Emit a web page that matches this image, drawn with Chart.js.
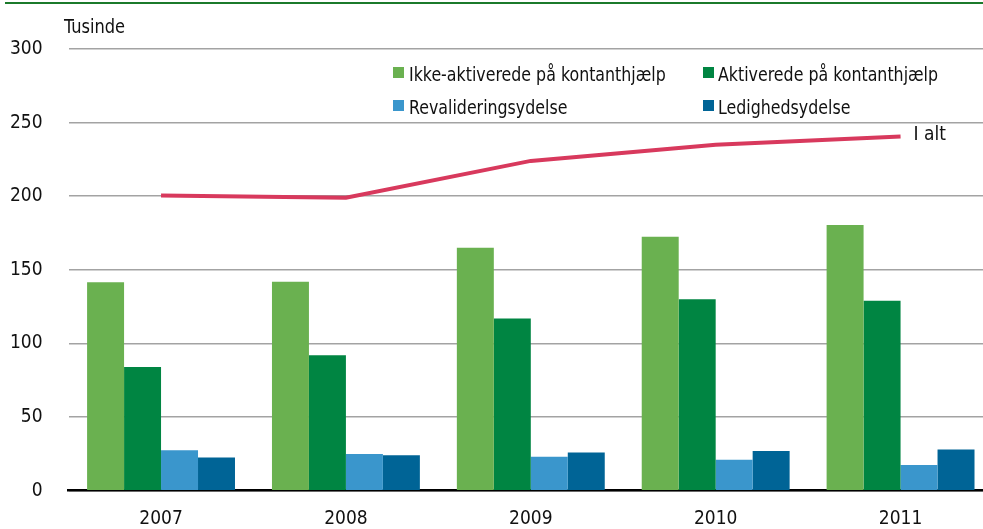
<!DOCTYPE html>
<html>
<head>
<meta charset="utf-8">
<script src="https://cdn.jsdelivr.net/npm/chart.js@4.4.1/dist/chart.umd.min.js"></script>
<style>
    body { margin: 0; background: #fff; overflow: hidden; width: 983px; height: 529px; position: relative; }
    .txt { position: absolute; font-family: "DejaVu Sans Condensed", "Liberation Sans", sans-serif; font-size: 20px; color: #111; white-space: nowrap; line-height: 1; transform: scaleX(0.88); transform-origin: 0 0; }
    .sw { position: absolute; width: 11px; height: 11px; }
    #topline { position: absolute; left: 5px; top: 2px; width: 978px; height: 2px; background: #1b7a2b; }
    #wrap { position: absolute; left: 0; top: 0; }
</style>
</head>
<body>
<div id="topline"></div>
<div id="wrap"><canvas id="chart" width="993" height="529"></canvas></div>
<div class="txt" style="left:64px; top:17px; font-size:19px; transform: scaleX(0.95);">Tusinde</div>

<div class="sw" style="left:393px; top:67px; background:#6ab150;"></div>
<div class="txt" style="left:409px; top:64px;">Ikke-aktiverede på kontanthjælp</div>
<div class="sw" style="left:703px; top:67px; background:#008542;"></div>
<div class="txt" style="left:718px; top:64px;">Aktiverede på kontanthjælp</div>
<div class="sw" style="left:393px; top:100px; background:#3a96cc;"></div>
<div class="txt" style="left:409px; top:97px;">Revalideringsydelse</div>
<div class="sw" style="left:703px; top:100px; background:#006496;"></div>
<div class="txt" style="left:718px; top:97px;">Ledighedsydelse</div>

<script>
const years = ['2007', '2008', '2009', '2010', '2011'];
const ikkeAktiverede = [141.5, 142, 165, 172.5, 180.5];
const aktiverede = [84, 92, 117, 130, 129];
const revalidering = [27.5, 25, 23, 21, 17.5];
const ledighed = [22.5, 24, 26, 27, 28];
const iAlt = [200.5, 199, 224, 235, 240.5];
const yTicks = [0, 50, 100, 150, 200, 250, 300];

const fontFamily = '"DejaVu Sans Condensed", "Liberation Sans", sans-serif';

// label at the end of the total line
const endLabel = {
    id: 'endLabel',
    afterDatasetsDraw(chart) {
        const meta = chart.getDatasetMeta(4);
        const last = meta.data[meta.data.length - 1];
        const ctx = chart.ctx;
        ctx.save();
        ctx.font = '19px ' + fontFamily;
        ctx.fillStyle = '#111';
        ctx.textAlign = 'left';
        ctx.textBaseline = 'middle';
        ctx.fillText('I alt', last.x + 13, last.y - 2);
        ctx.restore();
    }
};

const ctx = document.getElementById('chart');
const chart = new Chart(ctx, {
    type: 'bar',
    data: {
        labels: years,
        datasets: [
            { label: 'Ikke-aktiverede på kontanthjælp', data: ikkeAktiverede, backgroundColor: '#6ab150', order: 2 },
            { label: 'Aktiverede på kontanthjælp', data: aktiverede, backgroundColor: '#008542', order: 2 },
            { label: 'Revalideringsydelse', data: revalidering, backgroundColor: '#3a96cc', order: 2 },
            { label: 'Ledighedsydelse', data: ledighed, backgroundColor: '#006496', order: 2 },
            {
                type: 'line',
                label: 'I alt',
                data: iAlt,
                borderColor: '#d8395d',
                borderWidth: 4,
                pointRadius: 0,
                tension: 0,
                fill: false,
                order: 1,
            },
        ],
    },
    options: {
        responsive: false,
        animation: false,
        devicePixelRatio: 1,
        barPercentage: 1,
        categoryPercentage: 0.8,
        layout: { padding: { top: 49, left: 0, right: 0, bottom: 0 } },
        plugins: {
            legend: { display: false },
            tooltip: { enabled: false },
            title: { display: false },
        },
        scales: {
            x: {
                grid: { display: false, drawTicks: false },
                border: { display: true, color: '#000', width: 2.5 },
                ticks: {
                    color: '#111',
                    padding: 17,
                    font: { family: fontFamily, size: 19 },
                },
                afterFit: (scale) => { scale.height = 38.3; },
            },
            y: {
                min: 0,
                max: 300,
                afterBuildTicks: (scale) => { scale.ticks = yTicks.map(v => ({ value: v })); },
                grid: { color: '#a3a3a3', lineWidth: 1.6, drawTicks: false },
                border: { display: false },
                ticks: {
                    color: '#111',
                    padding: 26,
                    font: { family: fontFamily, size: 19 },
                },
                afterFit: (scale) => { scale.width = 68.6; },
            },
        },
    },
    plugins: [endLabel],
});
</script>
</body>
</html>
